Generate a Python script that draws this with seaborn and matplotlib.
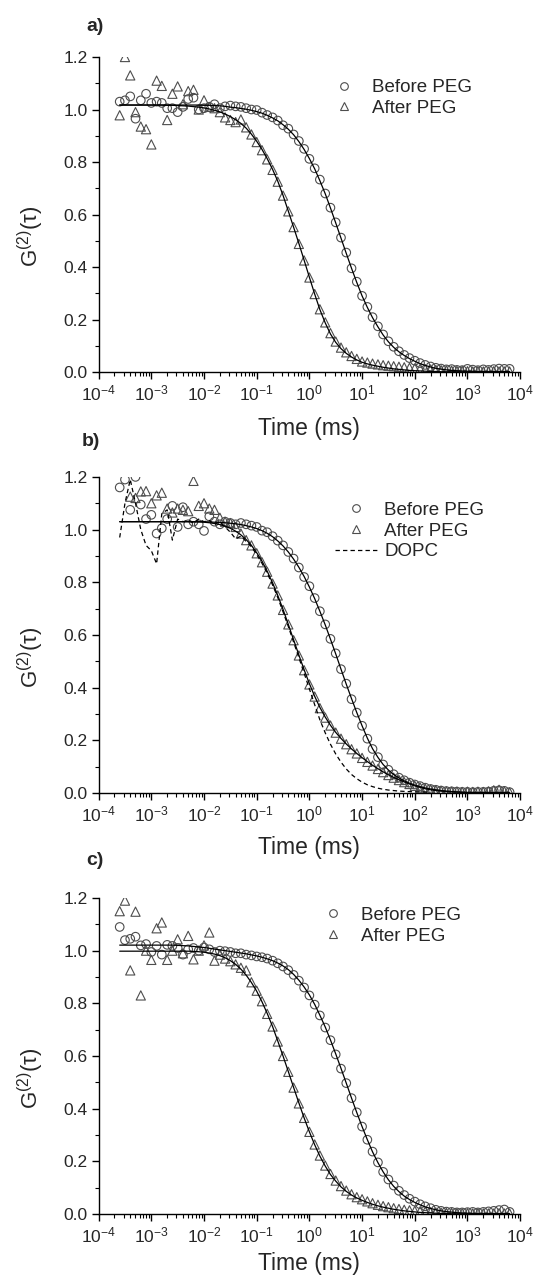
import numpy as np
import matplotlib
matplotlib.use("Agg")
import matplotlib.pyplot as plt
import seaborn as sns
from matplotlib.lines import Line2D
from matplotlib.ticker import LogLocator, MultipleLocator, FormatStrFormatter

# lag times (ms), 10 points per decade
TIME_MS = [
    2.51e-4, 3.16e-4, 3.98e-4, 5.01e-4, 6.31e-4, 7.94e-4,
    1.00e-3, 1.26e-3, 1.58e-3, 2.00e-3, 2.51e-3, 3.16e-3, 3.98e-3, 5.01e-3, 6.31e-3, 7.94e-3,
    1.00e-2, 1.26e-2, 1.58e-2, 2.00e-2, 2.51e-2, 3.16e-2, 3.98e-2, 5.01e-2, 6.31e-2, 7.94e-2,
    0.100, 0.126, 0.158, 0.200, 0.251, 0.316, 0.398, 0.501, 0.631, 0.794,
    1.00, 1.26, 1.58, 2.00, 2.51, 3.16, 3.98, 5.01, 6.31, 7.94,
    10.0, 12.6, 15.8, 20.0, 25.1, 31.6, 39.8, 50.1, 63.1, 79.4,
    100, 126, 158, 200, 251, 316, 398, 501, 631, 794,
    1000, 1260, 1580, 2000, 2510, 3160, 3980, 5010, 6310,
]
nan = np.nan

# ---- panel a ----
A_BEFORE = [
    1.030, 1.035, 1.050, 0.965, 1.035, 1.060,
    1.025, 1.030, 1.025, 1.005, 1.005, 0.990, 1.010, 1.040, 1.045, 1.000,
    1.005, 1.010, 1.020, 1.005, 1.012, 1.015, 1.012, 1.010, 1.005, 1.000,
    0.998, 0.988, 0.979, 0.970, 0.958, 0.940, 0.927, 0.905, 0.880, 0.850,
    0.812, 0.776, 0.733, 0.680, 0.626, 0.570, 0.512, 0.455, 0.395, 0.344,
    0.290, 0.248, 0.209, 0.174, 0.143, 0.117, 0.096, 0.079, 0.065, 0.053,
    0.043, 0.034, 0.027, 0.021, 0.016, 0.013, 0.010, 0.011, 0.008, 0.007,
    0.012, 0.009, 0.007, 0.010, 0.008, 0.011, 0.013, 0.012, 0.012,
]
A_AFTER = [
    0.978, 1.200, 1.130, 0.990, 0.935, 0.925,
    0.867, 1.110, 1.090, 0.960, 1.060, 1.088, 1.020, 1.070, 1.075, 1.000,
    1.035, 1.010, 1.005, 0.990, 0.970, 0.960, 0.952, 0.962, 0.932, 0.905,
    0.876, 0.845, 0.810, 0.770, 0.725, 0.672, 0.612, 0.552, 0.488, 0.425,
    0.360, 0.297, 0.239, 0.189, 0.148, 0.116, 0.093, 0.075, 0.061, 0.050,
    0.040, 0.036, 0.032, 0.029, 0.026, 0.024, 0.022, 0.020, 0.018, 0.016,
    0.014, 0.012, 0.011, 0.010, 0.008, 0.007, 0.006, 0.005, 0.004, 0.004,
    0.003, 0.002, 0.003, 0.002, 0.002, 0.003, 0.002, 0.002, 0.002,
]
A_FIT_BEFORE = [
    1.017, 1.017, 1.017, 1.017, 1.017, 1.017,
    1.017, 1.017, 1.017, 1.017, 1.017, 1.017, 1.017, 1.017, 1.017, 1.017,
    1.016, 1.016, 1.015, 1.014, 1.012, 1.009, 1.007, 1.004, 1.001, 0.997,
    0.992, 0.986, 0.978, 0.968, 0.957, 0.942, 0.925, 0.904, 0.878, 0.848,
    0.813, 0.774, 0.729, 0.679, 0.625, 0.568, 0.510, 0.452, 0.395, 0.341,
    0.290, 0.246, 0.207, 0.172, 0.141, 0.115, 0.094, 0.077, 0.063, 0.051,
    0.041, 0.032, 0.025, 0.019, 0.014, 0.011, 0.008, 0.006, 0.005, 0.004,
    0.003, 0.003, 0.002, 0.002, 0.002, 0.002, 0.002, 0.002, 0.002,
]
A_FIT_AFTER = [
    1.017, 1.017, 1.017, 1.017, 1.017, 1.017,
    1.017, 1.017, 1.017, 1.016, 1.016, 1.015, 1.014, 1.013, 1.011, 1.009,
    1.006, 1.002, 0.997, 0.991, 0.983, 0.973, 0.961, 0.947, 0.929, 0.906,
    0.879, 0.848, 0.813, 0.772, 0.727, 0.673, 0.613, 0.552, 0.490, 0.426,
    0.361, 0.297, 0.238, 0.187, 0.145, 0.113, 0.089, 0.071, 0.057, 0.046,
    0.037, 0.031, 0.026, 0.022, 0.018, 0.015, 0.012, 0.010, 0.008, 0.006,
    0.005, 0.004, 0.003, 0.002, 0.002, 0.001, 0.001, 0.001, 0.001, 0.001,
    0.001, 0.001, 0.001, 0.001, 0.001, 0.001, 0.001, 0.001, 0.001,
]

# ---- panel b ----
B_BEFORE = [
    1.160, 1.190, 1.075, 1.200, 1.095, 1.040,
    1.056, 0.985, 1.005, 1.040, 1.090, 1.010, 1.085, 1.020, 1.030, 1.020,
    0.995, 1.050, 1.030, 1.020, 1.030, 1.025, 1.020, 1.025, 1.020, 1.015,
    1.010, 0.996, 0.990, 0.975, 0.958, 0.940, 0.915, 0.890, 0.856, 0.820,
    0.785, 0.740, 0.690, 0.640, 0.585, 0.530, 0.470, 0.415, 0.356, 0.305,
    0.255, 0.206, 0.167, 0.136, 0.108, 0.088, 0.071, 0.058, 0.048, 0.039,
    0.032, 0.026, 0.020, 0.015, 0.012, 0.009, 0.007, 0.006, 0.005, 0.004,
    0.004, 0.003, 0.004, 0.004, 0.005, 0.008, 0.010, 0.008, 0.003,
]
B_AFTER = [
    nan, nan, 1.125, 1.120, 1.145, 1.146,
    1.100, 1.130, 1.140, 1.080, 1.065, 1.080, 1.075, 1.070, 1.185, 1.090,
    1.100, 1.080, 1.075, 1.045, 1.030, 1.025, 1.010, 0.985, 0.960, 0.940,
    0.910, 0.876, 0.840, 0.795, 0.750, 0.695, 0.640, 0.580, 0.522, 0.466,
    0.412, 0.366, 0.322, 0.286, 0.256, 0.229, 0.206, 0.185, 0.166, 0.150,
    0.133, 0.118, 0.104, 0.091, 0.079, 0.068, 0.058, 0.049, 0.041, 0.034,
    0.027, 0.021, 0.016, 0.013, 0.010, 0.008, 0.006, 0.005, 0.005, 0.004,
    0.005, 0.004, 0.005, 0.004, 0.006, 0.010, 0.012, 0.006, 0.002,
]
B_FIT_BEFORE = [
    1.030, 1.030, 1.030, 1.030, 1.030, 1.030,
    1.030, 1.030, 1.030, 1.030, 1.030, 1.030, 1.030, 1.030, 1.030, 1.030,
    1.030, 1.029, 1.028, 1.027, 1.026, 1.024, 1.022, 1.019, 1.015, 1.010,
    1.004, 0.996, 0.986, 0.973, 0.957, 0.938, 0.915, 0.888, 0.857, 0.822,
    0.782, 0.738, 0.690, 0.638, 0.584, 0.528, 0.470, 0.413, 0.358, 0.305,
    0.255, 0.208, 0.168, 0.135, 0.108, 0.087, 0.070, 0.057, 0.046, 0.037,
    0.030, 0.024, 0.019, 0.015, 0.012, 0.009, 0.007, 0.005, 0.004, 0.003,
    0.002, 0.002, 0.002, 0.002, 0.002, 0.002, 0.002, 0.002, 0.002,
]
B_FIT_AFTER = [
    1.030, 1.030, 1.030, 1.030, 1.030, 1.030,
    1.030, 1.030, 1.030, 1.030, 1.030, 1.030, 1.030, 1.030, 1.029, 1.029,
    1.028, 1.026, 1.023, 1.019, 1.013, 1.005, 0.994, 0.980, 0.962, 0.940,
    0.912, 0.880, 0.842, 0.798, 0.750, 0.697, 0.640, 0.582, 0.524, 0.468,
    0.415, 0.367, 0.325, 0.288, 0.257, 0.230, 0.207, 0.186, 0.167, 0.150,
    0.134, 0.119, 0.105, 0.092, 0.080, 0.069, 0.059, 0.050, 0.042, 0.034,
    0.027, 0.021, 0.016, 0.012, 0.009, 0.007, 0.005, 0.004, 0.003, 0.002,
    0.001, 0.001, 0.001, 0.001, 0.001, 0.001, 0.001, 0.001, 0.001,
]
B_DOPC = [
    0.970, 1.100, 1.190, 1.100, 1.000, 0.940,
    0.920, 0.870, 1.060, 1.075, 0.960, 1.040, 1.030, 1.035, 1.025, 1.040,
    1.030, 1.035, 1.020, 1.030, 1.010, 0.990, 0.965, 0.975, 0.955, 0.935,
    0.905, 0.872, 0.835, 0.790, 0.742, 0.688, 0.632, 0.573, 0.514, 0.455,
    0.395, 0.335, 0.278, 0.228, 0.185, 0.148, 0.117, 0.091, 0.070, 0.054,
    0.041, 0.031, 0.024, 0.018, 0.014, 0.011, 0.009, 0.007, 0.006, 0.005,
    0.004, 0.004, 0.003, 0.003, nan, nan, nan, nan, nan, nan,
    nan, nan, nan, nan, nan, nan, nan, nan, nan,
]

# ---- panel c ----
C_BEFORE = [
    1.090, 1.040, 1.045, 1.053, 1.020, 1.025,
    0.995, 1.018, 0.985, 1.022, 1.018, 1.010, 0.985, 1.005, 1.010, 1.000,
    1.012, 1.005, 0.995, 1.000, 0.998, 0.995, 0.990, 0.990, 0.985, 0.982,
    0.978, 0.975, 0.970, 0.962, 0.952, 0.940, 0.926, 0.908, 0.886, 0.860,
    0.830, 0.795, 0.754, 0.708, 0.660, 0.606, 0.552, 0.497, 0.440, 0.386,
    0.332, 0.282, 0.237, 0.196, 0.160, 0.131, 0.108, 0.088, 0.072, 0.058,
    0.047, 0.037, 0.029, 0.022, 0.016, 0.012, 0.009, 0.008, 0.006, 0.006,
    0.007, 0.008, 0.006, 0.008, 0.010, 0.012, 0.015, 0.017, 0.008,
]
C_AFTER = [
    1.150, 1.190, 0.925, 1.148, 0.830, 1.000,
    0.965, 1.085, 1.107, 0.965, 1.000, 1.043, 0.990, 1.056, 0.967, 1.000,
    1.020, 1.069, 0.962, 0.985, 0.970, 0.960, 0.948, 0.935, 0.925, 0.880,
    0.848, 0.808, 0.760, 0.712, 0.655, 0.600, 0.540, 0.480, 0.420, 0.365,
    0.312, 0.264, 0.222, 0.184, 0.152, 0.127, 0.106, 0.089, 0.075, 0.064,
    0.056, 0.048, 0.041, 0.035, 0.030, 0.026, 0.022, 0.019, 0.016, 0.014,
    0.012, 0.010, 0.009, 0.007, 0.006, 0.005, 0.004, 0.004, 0.003, 0.003,
    0.003, 0.002, 0.003, 0.002, 0.002, 0.002, 0.003, 0.002, 0.002,
]
C_FIT_BEFORE = [
    1.021, 1.021, 1.021, 1.021, 1.021, 1.021,
    1.021, 1.021, 1.021, 1.021, 1.021, 1.020, 1.019, 1.018, 1.016, 1.014,
    1.012, 1.009, 1.006, 1.003, 1.000, 0.997, 0.994, 0.991, 0.988, 0.984,
    0.980, 0.975, 0.969, 0.962, 0.953, 0.942, 0.928, 0.910, 0.888, 0.862,
    0.832, 0.796, 0.755, 0.710, 0.661, 0.608, 0.553, 0.497, 0.440, 0.385,
    0.332, 0.282, 0.236, 0.195, 0.160, 0.130, 0.105, 0.085, 0.068, 0.055,
    0.044, 0.035, 0.027, 0.021, 0.016, 0.012, 0.009, 0.007, 0.005, 0.004,
    0.003, 0.002, 0.002, 0.002, 0.002, 0.002, 0.002, 0.002, 0.002,
]
C_FIT_AFTER = [
    0.998, 0.998, 0.998, 0.998, 0.998, 0.998,
    0.998, 0.998, 0.998, 0.998, 0.998, 0.998, 0.998, 0.998, 0.997, 0.996,
    0.994, 0.991, 0.987, 0.981, 0.973, 0.962, 0.948, 0.930, 0.907, 0.879,
    0.846, 0.806, 0.762, 0.712, 0.657, 0.600, 0.541, 0.481, 0.422, 0.365,
    0.312, 0.263, 0.220, 0.182, 0.150, 0.125, 0.103, 0.086, 0.072, 0.061,
    0.052, 0.044, 0.037, 0.031, 0.026, 0.022, 0.018, 0.015, 0.012, 0.010,
    0.008, 0.006, 0.005, 0.004, 0.003, 0.002, 0.002, 0.001, 0.001, 0.001,
    0.001, 0.001, 0.001, 0.001, 0.001, 0.001, 0.001, 0.001, 0.001,
]

PANELS = [
    # label, before, after, fit_before, fit_after, dopc
    ("a)", A_BEFORE, A_AFTER, A_FIT_BEFORE, A_FIT_AFTER, None),
    ("b)", B_BEFORE, B_AFTER, B_FIT_BEFORE, B_FIT_AFTER, B_DOPC),
    ("c)", C_BEFORE, C_AFTER, C_FIT_BEFORE, C_FIT_AFTER, None),
]

sns.set_theme(style="ticks")
plt.rcParams["font.family"] = ["Liberation Sans", "DejaVu Sans"]
plt.rcParams["mathtext.fontset"] = "custom"
plt.rcParams["mathtext.rm"] = "Liberation Sans"
plt.rcParams["mathtext.it"] = "Liberation Sans:italic"
plt.rcParams["mathtext.default"] = "regular"

EDGE = "0.3"

fig = plt.figure(figsize=(5.39, 12.81), dpi=100)

# axes boxes in figure fraction (left, bottom, width, height)
boxes = [
    (0.183, 0.7096, 0.782, 0.2459),
    (0.183, 0.3810, 0.782, 0.2467),
    (0.183, 0.0523, 0.782, 0.2467),
]
label_pos = [(0.176, 0.979), (0.169, 0.655), (0.176, 0.328)]
xlabel_y = [-0.178, -0.174, -0.158]
legend_anchor = [(0.53, 0.93), (0.56, 0.922), (0.505, 0.972)]

for i, (lab, before, after, fit_b, fit_a, dopc) in enumerate(PANELS):
    ax = fig.add_axes(boxes[i])

    sns.scatterplot(x=TIME_MS, y=before, ax=ax, marker="o", s=38,
                    facecolors="none", edgecolor=EDGE, linewidth=0.8, zorder=2)
    sns.scatterplot(x=TIME_MS, y=after, ax=ax, marker="^", s=44,
                    facecolors="none", edgecolor=EDGE, linewidth=0.8, zorder=2)
    if dopc is not None:
        sns.lineplot(x=TIME_MS, y=dopc, ax=ax, color="black", lw=0.9,
                     dashes=(3.5, 2.5), estimator=None, sort=False, zorder=3)
    sns.lineplot(x=TIME_MS, y=fit_b, ax=ax, color="black", lw=0.9,
                 estimator=None, sort=False, zorder=3)
    sns.lineplot(x=TIME_MS, y=fit_a, ax=ax, color="black", lw=0.9,
                 estimator=None, sort=False, zorder=3)

    ax.set_xscale("log")
    ax.set_xlim(1e-4, 1e4)
    ax.set_ylim(0, 1.2)
    ax.xaxis.set_major_locator(LogLocator(base=10, numticks=20))
    ax.xaxis.set_minor_locator(LogLocator(base=10, subs=np.arange(2, 10), numticks=20))
    ax.yaxis.set_major_locator(MultipleLocator(0.2))
    ax.yaxis.set_minor_locator(MultipleLocator(0.1))
    ax.yaxis.set_major_formatter(FormatStrFormatter("%.1f"))
    ax.tick_params(which="major", direction="out", length=5, width=1,
                   labelsize=12.5, color="black", pad=3)
    ax.tick_params(which="minor", direction="out", length=3, width=0.8, color="black")
    sns.despine(ax=ax)
    for sp in ("left", "bottom"):
        ax.spines[sp].set_linewidth(1.0)
        ax.spines[sp].set_color("black")

    ax.set_xlabel("Time (ms)", fontsize=16.5)
    ax.xaxis.set_label_coords(0.5, xlabel_y[i])
    ax.xaxis.label.set_verticalalignment("center")
    ax.set_ylabel("G$^{(2)}$(τ)", fontsize=16)
    ax.yaxis.set_label_coords(-0.16, 0.43)
    ax.yaxis.label.set_verticalalignment("center")

    handles = [
        Line2D([], [], ls="none", marker="o", mfc="none", mec=EDGE, mew=0.8, ms=5.5,
               label="Before PEG"),
        Line2D([], [], ls="none", marker="^", mfc="none", mec=EDGE, mew=0.8, ms=6,
               label="After PEG"),
    ]
    if dopc is not None:
        handles.append(Line2D([], [], color="black", lw=0.9, ls=(0, (3.5, 2.5)),
                              label="DOPC"))
    ax.legend(handles=handles, loc="upper left", bbox_to_anchor=legend_anchor[i],
              frameon=False, fontsize=13.5, handlelength=2.3, handletextpad=0.35,
              labelspacing=0.2, borderpad=0, borderaxespad=0)

    fig.text(label_pos[i][0], label_pos[i][1], lab, fontsize=14,
             fontweight="bold", ha="center", va="center")

fig.savefig("out.png", dpi=100)
plt.close(fig)
